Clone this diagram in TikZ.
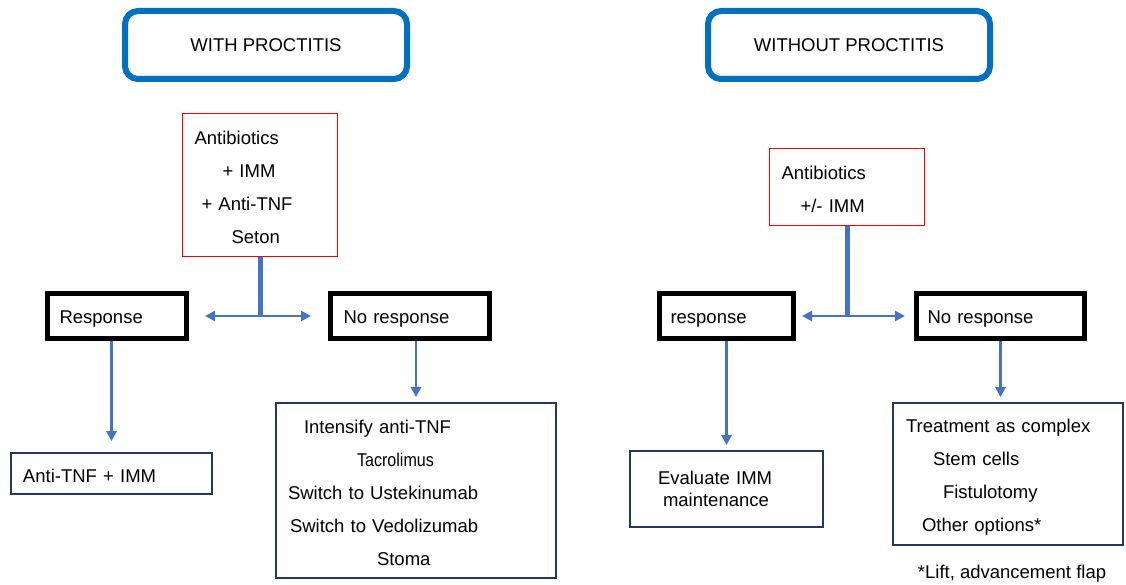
\documentclass[tikz,border=0pt]{standalone}
\usepackage{fontspec}
\setmainfont{Liberation Sans}
\usetikzlibrary{arrows.meta, positioning}
\definecolor{TitleBlue}{RGB}{0,112,192}
\definecolor{ArrowBlue}{RGB}{68,114,196}
\definecolor{BoxNavy}{RGB}{31,56,100}

\begin{document}
\begin{tikzpicture}[
          x=1pt, y=-1pt,
          every node/.style={font=\fontsize{18.5}{33}\selectfont, inner sep=0pt},
          lowered/.style={execute at begin node={\rule{0pt}{19pt}}},
          title/.style={draw=TitleBlue, line width=6pt, rounded corners=13pt, minimum width=282pt, minimum height=68pt},
          therapy/.style={draw=red, line width=1.6pt, align=left, inner xsep=12pt, lowered},
          outcome/.style={draw=black, line width=5pt, align=left, minimum height=45pt, inner xsep=11pt, lowered},
          resultbox/.style={draw=BoxNavy, line width=1.8pt, align=left, inner xsep=12pt},
          result/.style={resultbox, lowered},
          trunk/.style={ArrowBlue, line width=5pt},
          link/.style={ArrowBlue, line width=2.5pt, -{Triangle[length=10pt, width=10pt]}}
        ]
          \useasboundingbox (0,0) rectangle (1126,585);

          % with proctitis
          \node (titleA) [title] at (266,45) {WITH PROCTITIS};
          \node (therA) [therapy, minimum width=155pt, minimum height=143pt, text width=131pt] at (260,185)
            {Antibiotics\\ \hspace*{28pt}+ IMM\\ \hspace*{7pt}+ Anti-TNF\\ \hspace*{37pt}Seton};
          \node (respA) [outcome, minimum width=139pt, text width=115pt] at (117,316) {Response};
          \node (norespA) [outcome, minimum width=159pt, text width=133pt] at (410,316) {No response};
          \node (resA) [result, minimum width=201pt, minimum height=41pt, text width=177pt] at (111.5,473.5) {Anti-TNF + IMM};
          \node (resB) [result, minimum width=280pt, minimum height=175pt, text width=256pt] at (416,490.5)
            {\hspace*{16pt}Intensify anti-TNF\\ \hspace*{69pt}\scalebox{0.87}[1]{Tacrolimus}\\ Switch to Ustekinumab\\ \hspace*{2pt}Switch to Vedolizumab\\ \hspace*{89pt}Stoma};

          \coordinate (splitA) at (therA.south |- respA.east);
          \draw[trunk] (therA.south) -- (splitA);
          \draw[link, shorten >=16pt] (splitA) -- (respA.east);
          \draw[link, shorten >=17pt] (splitA) -- (norespA.west);
          \draw[link, shorten >=11pt] (resA.north |- respA.south) -- (resA.north);
          \draw[link, shorten >=5pt] (resB.north |- norespA.south) -- (resB.north);

          % without proctitis
          \node (titleB) [title] at (849,45) {WITHOUT PROCTITIS};
          \node (therB) [therapy, minimum width=155pt, minimum height=77pt, text width=131pt] at (847,187)
            {Antibiotics\\ \hspace*{19pt}+/- IMM};
          \node (respB) [outcome, minimum width=134pt, text width=112pt] at (726.5,316) {response};
          \node (norespB) [outcome, minimum width=168pt, text width=146pt] at (1000.5,316) {No response};
          \node (resC) [resultbox, minimum width=193pt, minimum height=76pt, text width=137pt, inner xsep=28pt,
            font=\fontsize{18.5}{22}\selectfont] at (726.5,489) {Evaluate IMM\\ \hspace*{5pt}maintenance};
          \node (resD) [result, minimum width=230pt, minimum height=142pt, text width=204pt] at (1008,474)
            {Treatment as complex\\ \hspace*{27pt}Stem cells\\ \hspace*{37pt}Fistulotomy\\ \hspace*{16pt}Other options*};
          \node (note) [below=19pt of resD.south, xshift=4pt] {*Lift, advancement flap};

          \coordinate (splitB) at (therB.south |- respB.east);
          \draw[trunk] (therB.south) -- (splitB);
          \draw[link, shorten >=6pt] (splitB) -- (respB.east);
          \draw[link, shorten >=9pt] (splitB) -- (norespB.west);
          \draw[link, shorten >=5pt] (resC.north |- respB.south) -- (resC.north);
          \draw[link, shorten >=5pt] (norespB.south) -- (norespB.south |- resD.north);
        \end{tikzpicture}
\end{document}
